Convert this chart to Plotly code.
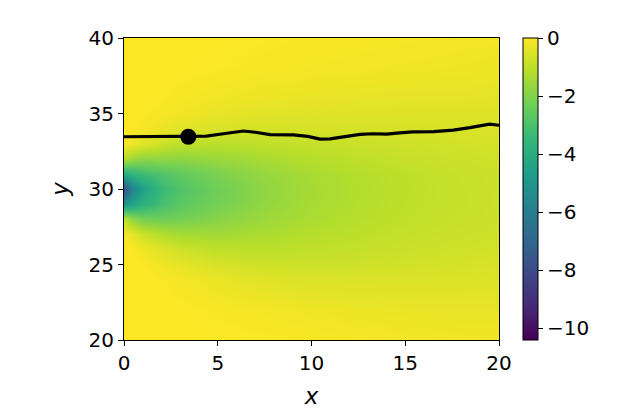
import plotly.graph_objects as go

# grid sample positions (cell centres)
x_grid = [0, 0.5, 1, 2, 3, 5, 7.5, 10, 12.5, 15, 17.5, 20]
y_grid = [20, 22, 24, 25, 26, 27, 28, 29, 30, 31, 32, 33, 34, 35, 36, 38, 40]

# field values, one row per y_grid entry (bottom to top)
z_y20 = [0, 0, 0, 0, 0, -0.01, -0.04, -0.08, -0.12, -0.15, -0.18, -0.2]
z_y22 = [0, 0, 0, 0, -0.02, -0.08, -0.15, -0.22, -0.27, -0.3, -0.32, -0.33]
z_y24 = [0, 0, 0, -0.05, -0.12, -0.3, -0.45, -0.55, -0.56, -0.55, -0.53, -0.52]
z_y25 = [0, 0, -0.05, -0.2, -0.35, -0.6, -0.75, -0.78, -0.75, -0.7, -0.65, -0.62]
z_y26 = [0, -0.05, -0.2, -0.5, -0.75, -1.0, -1.05, -0.98, -0.9, -0.82, -0.75, -0.7]
z_y27 = [-0.1, -0.4, -0.8, -1.2, -1.4, -1.45, -1.3, -1.15, -1.02, -0.9, -0.82, -0.76]
z_y28 = [-1.0, -1.8, -2.2, -2.3, -2.2, -1.9, -1.55, -1.3, -1.12, -0.97, -0.87, -0.8]
z_y29 = [-5.0, -4.3, -3.8, -3.1, -2.7, -2.2, -1.7, -1.38, -1.18, -1.0, -0.9, -0.82]
z_y30 = [-8.0, -5.6, -4.5, -3.4, -2.9, -2.3, -1.75, -1.4, -1.2, -1.02, -0.9, -0.82]
z_y31 = [-4.0, -3.6, -3.3, -2.9, -2.6, -2.1, -1.65, -1.35, -1.15, -1.0, -0.88, -0.8]
z_y32 = [-1.2, -1.6, -1.8, -1.8, -1.8, -1.6, -1.35, -1.15, -1.0, -0.88, -0.8, -0.74]
z_y33 = [-0.1, -0.3, -0.5, -0.8, -1.0, -1.1, -1.0, -0.9, -0.82, -0.75, -0.7, -0.66]
z_y34 = [0, -0.05, -0.12, -0.3, -0.45, -0.6, -0.65, -0.65, -0.65, -0.62, -0.6, -0.58]
z_y35 = [0, -0.02, -0.05, -0.12, -0.2, -0.35, -0.45, -0.48, -0.5, -0.5, -0.5, -0.5]
z_y36 = [0, 0, -0.02, -0.05, -0.1, -0.2, -0.28, -0.32, -0.35, -0.37, -0.38, -0.4]
z_y38 = [0, 0, 0, 0, -0.02, -0.05, -0.1, -0.14, -0.17, -0.2, -0.22, -0.25]
z_y40 = [0, 0, 0, 0, 0, -0.02, -0.05, -0.08, -0.1, -0.12, -0.15, -0.17]

z_rows = [z_y20, z_y22, z_y24, z_y25, z_y26, z_y27, z_y28, z_y29, z_y30,
          z_y31, z_y32, z_y33, z_y34, z_y35, z_y36, z_y38, z_y40]

# path (black line)
path_x = [0, 3.43, 4.4, 5.3, 6.37, 7.0, 7.79, 9.03, 9.8, 10.45, 11.0, 11.52,
          12.59, 13.3, 14.0, 14.7, 15.4, 16.5, 17.56, 18.45, 19.0, 19.5, 20]
path_y = [33.46, 33.46, 33.5, 33.66, 33.84, 33.76, 33.6, 33.58, 33.48, 33.3, 33.32, 33.42,
          33.62, 33.66, 33.64, 33.72, 33.78, 33.8, 33.9, 34.06, 34.2, 34.3, 34.22]
marker_x = [3.43]
marker_y = [33.46]

colorbar_ticks = [0, -2, -4, -6, -8, -10]
z_min, z_max = -10.4, 0

FONT = "DejaVu Sans"

fig = go.Figure()
fig.add_trace(go.Heatmap(
    x=x_grid, y=y_grid, z=z_rows,
    colorscale="Viridis", zmin=z_min, zmax=z_max, zsmooth="best",
    colorbar=dict(
        x=1.064, xanchor="left", y=0, yanchor="bottom", len=1, lenmode="fraction",
        thickness=15, thicknessmode="pixels",
        outlinecolor="black", outlinewidth=1,
        tickvals=colorbar_ticks, ticks="outside", ticklen=5, tickcolor="black",
        tickfont=dict(family=FONT, size=20, color="black"),
        xpad=0, ypad=0,
    ),
    showscale=True,
))
fig.add_trace(go.Scatter(
    x=path_x, y=path_y, mode="lines",
    line=dict(color="black", width=3.2), showlegend=False,
))
fig.add_trace(go.Scatter(
    x=marker_x, y=marker_y, mode="markers",
    marker=dict(color="black", size=16), showlegend=False,
))

axis_common = dict(
    showgrid=False, zeroline=False, showline=True, linecolor="black", linewidth=1.2,
    mirror=True, ticks="outside", ticklen=5, tickcolor="black", tickwidth=1.2,
    tickfont=dict(family=FONT, size=20, color="black"),
)
fig.update_xaxes(range=[0, 20], tickvals=[0, 5, 10, 15, 20],
                 title=dict(text="<i>x</i>", font=dict(family=FONT, size=23, color="black"), standoff=13),
                 **axis_common)
fig.update_yaxes(range=[20, 40], tickvals=[20, 25, 30, 35, 40],
                 title=dict(text="<i>y</i>", font=dict(family=FONT, size=23, color="black"), standoff=13),
                 **axis_common)
fig.update_layout(
    width=625, height=420,
    margin=dict(l=124, r=126, t=38, b=80),
    paper_bgcolor="white", plot_bgcolor="white",
    showlegend=False,
)
fig.write_html("out.html")
